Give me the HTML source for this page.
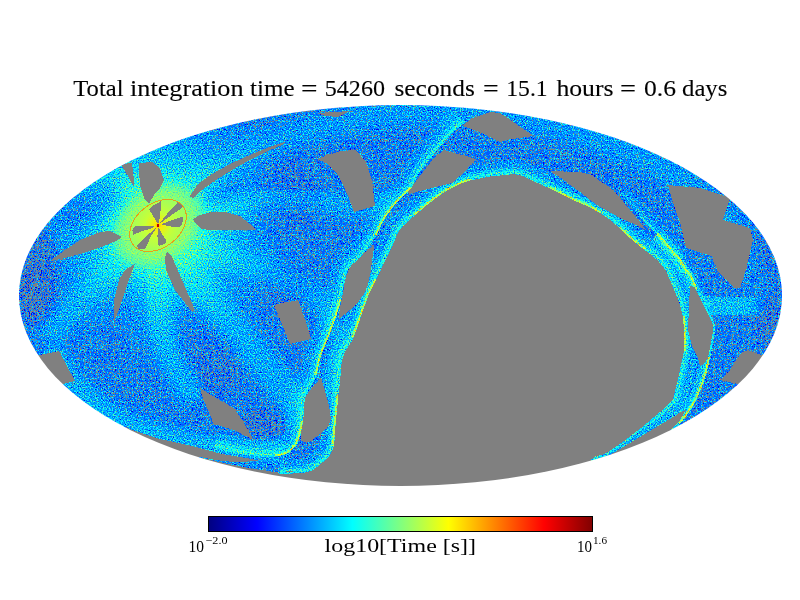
<!DOCTYPE html>
<html><head><meta charset="utf-8"><title>Total integration time</title>
<style>
html,body{margin:0;padding:0;background:#fff;width:800px;height:600px;overflow:hidden}
text{font-family:"Liberation Serif",serif;fill:#000}
</style></head>
<body>
<svg width="800" height="600" viewBox="0 0 800 600" style="position:absolute;left:0;top:0">
<defs>
<filter id="jet" x="0" y="0" width="800" height="600" filterUnits="userSpaceOnUse" color-interpolation-filters="sRGB">
<feTurbulence type="fractalNoise" baseFrequency="0.83 0.79" numOctaves="1" seed="7" result="n"/>
<feComponentTransfer in="n" result="m0"><feFuncR type="table" tableValues="0.173 0.173 0.173 0.173 0.173 0.174 0.174 0.174 0.175 0.176 0.178 0.182 0.187 0.194 0.205 0.220 0.240 0.250 0.257 0.267 0.280 0.294 0.301 0.309 0.319 0.330 0.343 0.356 0.371 0.386 0.401 0.418 0.434 0.450 0.471 0.490 0.519 0.556 0.587 0.627 0.671 0.706 0.748 0.794 0.828 0.861 0.904 0.935 0.956 0.971 0.981 0.988 0.993 0.995 0.997 0.998 0.999 0.999 1.000 1.000 1.000 1.000 1.000 1.000 1.000"/><feFuncA type="linear" slope="0" intercept="1"/></feComponentTransfer>
<feColorMatrix in="m0" type="matrix" values="1 0 0 0 0  1 0 0 0 0  1 0 0 0 0  0 0 0 0 1" result="m"/>
<feBlend in="SourceGraphic" in2="m" mode="multiply" result="v"/>
<feComponentTransfer in="v" result="col">
<feFuncR type="discrete" tableValues="0.502 0.502 0.502 0.502 0.502 0.502 0.502 0.502 0.502 0.502 0.502 0.502 0.502 0.502 0.502 0.502 0.502 0.502 0.502 0.502 0 0 0 0 0 0 0 0 0 0 0 0 0 0 0 0 0 0 0 0 0 0 0 0 0 0 0 0 0.017 0.037 0.056 0.075 0.094 0.112 0.13 0.147 0.165 0.182 0.198 0.215 0.231 0.247 0.262 0.277 0.293 0.307 0.322 0.336 0.351 0.365 0.378 0.392 0.405 0.419 0.432 0.445 0.457 0.47 0.482 0.494 0.507 0.518 0.53 0.542 0.553 0.565 0.576 0.587 0.598 0.609 0.62 0.63 0.641 0.651 0.661 0.672 0.682 0.692 0.701 0.711 0.721 0.73 0.74 0.749 0.759 0.768 0.777 0.786 0.795 0.804 0.813 0.821 0.83 0.838 0.847 0.855 0.864 0.872 0.88 0.888 0.896 0.904 0.912 0.92 0.928 0.935 0.943 0.951 0.958 0.966 0.973 0.981 0.988 0.995 1 1 1 1 1 1 1 1 1 1 1 1 1 1 1 1 1 1 1 1 1 1 1 1 1 1 1 1 1 1 1 1 1 1 1 1 1 1 1 1 1 1 1 1 1 1 1 1 1 1 1 1 1 1 1 1 1 1 1 1 1 1 1 1 1 1 1 1 1 1 1 1 1 1 1 1 1 1 1 1 1 1 1 1 1 1 1 1 1 1 1 1 1 1 1 1 1 1 1 1 1 1 1 1 1 1 1 1 1 1 1 1 1 1 1 1 1 1 1 1 1 1"/>
<feFuncG type="discrete" tableValues="0.502 0.502 0.502 0.502 0.502 0.502 0.502 0.502 0.502 0.502 0.502 0.502 0.502 0.502 0.502 0.502 0.502 0.502 0.502 0.502 0 0.335 0.349 0.361 0.373 0.396 0.433 0.469 0.504 0.537 0.569 0.6 0.631 0.66 0.688 0.716 0.743 0.769 0.794 0.819 0.843 0.867 0.89 0.912 0.934 0.955 0.976 0.997 1 1 1 1 1 1 1 1 1 1 1 1 1 1 1 1 1 1 1 1 1 1 1 1 1 1 1 1 1 1 1 1 1 1 1 1 1 1 1 1 1 1 1 1 1 1 1 1 1 1 1 1 1 1 1 1 1 1 1 1 1 1 1 1 1 1 1 1 1 1 1 1 1 1 1 1 1 1 1 1 1 1 1 1 1 1 0.998 0.99 0.983 0.976 0.969 0.962 0.955 0.949 0.942 0.935 0.928 0.922 0.915 0.909 0.902 0.896 0.889 0.883 0.876 0.87 0.864 0.858 0.851 0.845 0.839 0.833 0.827 0.821 0.815 0.809 0.803 0.797 0.792 0.786 0.78 0.774 0.769 0.763 0.757 0.752 0.746 0.741 0.735 0.73 0.724 0.719 0.714 0.708 0.703 0.698 0.692 0.687 0.682 0.677 0.672 0.667 0.661 0.656 0.651 0.646 0.641 0.636 0.631 0.627 0.622 0.617 0.612 0.607 0.602 0.598 0.593 0.588 0.584 0.579 0.574 0.57 0.565 0.56 0.556 0.551 0.547 0.542 0.538 0.533 0.529 0.525 0.52 0.516 0.511 0.507 0.503 0.499 0.494 0.49 0.486 0.482 0.477 0.473 0.469 0.465 0.461 0.457 0.453 0.448 0.444 0.44 0.436 0.432 0.428 0.424 0.42 0.416 0.413 0.409 0.405 0.401 0.397 0.393 0.389 0.385 0.382 0.378"/>
<feFuncB type="discrete" tableValues="0.502 0.502 0.502 0.502 0.502 0.502 0.502 0.502 0.502 0.502 0.502 0.502 0.502 0.502 0.502 0.502 0.502 0.502 0.502 0.502 0.937 1 1 1 1 1 1 1 1 1 1 1 1 1 1 1 1 1 1 1 1 1 1 1 1 1 1 1 0.983 0.963 0.944 0.925 0.906 0.888 0.87 0.853 0.835 0.818 0.802 0.785 0.769 0.753 0.738 0.723 0.707 0.693 0.678 0.664 0.649 0.635 0.622 0.608 0.595 0.581 0.568 0.555 0.543 0.53 0.518 0.506 0.493 0.482 0.47 0.458 0.447 0.435 0.424 0.413 0.402 0.391 0.38 0.37 0.359 0.349 0.339 0.328 0.318 0.308 0.299 0.289 0.279 0.27 0.26 0.251 0.241 0.232 0.223 0.214 0.205 0.196 0.187 0.179 0.17 0.162 0.153 0.145 0.136 0.128 0.12 0.112 0.104 0.096 0.088 0.08 0.072 0.065 0.057 0.049 0.042 0.034 0.027 0.019 0.012 0.005 0 0 0 0 0 0 0 0 0 0 0 0 0 0 0 0 0 0 0 0 0 0 0 0 0 0 0 0 0 0 0 0 0 0 0 0 0 0 0 0 0 0 0 0 0 0 0 0 0 0 0 0 0 0 0 0 0 0 0 0 0 0 0 0 0 0 0 0 0 0 0 0 0 0 0 0 0 0 0 0 0 0 0 0 0 0 0 0 0 0 0 0 0 0 0 0 0 0 0 0 0 0 0 0 0 0 0 0 0 0 0 0 0 0 0 0 0 0 0 0 0 0"/>
<feFuncA type="linear" slope="0" intercept="1"/>
</feComponentTransfer>
<feComposite in="col" in2="SourceGraphic" operator="in"/>
</filter>
<clipPath id="ell"><ellipse cx="400.5" cy="295.5" rx="381.5" ry="190.5" shape-rendering="crispEdges"/></clipPath>

<radialGradient id="glow" gradientUnits="userSpaceOnUse" cx="158" cy="225" r="150">
<stop offset="0" stop-color="#fff" stop-opacity="0.8"/>
<stop offset="0.13" stop-color="#fff" stop-opacity="0.6"/>
<stop offset="0.24" stop-color="#fff" stop-opacity="0.38"/>
<stop offset="0.4" stop-color="#fff" stop-opacity="0.17"/>
<stop offset="0.6" stop-color="#fff" stop-opacity="0.07"/>
<stop offset="0.8" stop-color="#fff" stop-opacity="0.025"/>
<stop offset="1" stop-color="#fff" stop-opacity="0"/>
</radialGradient>
<filter id="b3" x="-20%" y="-20%" width="140%" height="140%"><feGaussianBlur stdDeviation="3"/></filter>
<filter id="b6" x="-20%" y="-20%" width="140%" height="140%"><feGaussianBlur stdDeviation="6"/></filter>
<filter id="b12" x="-30%" y="-30%" width="160%" height="160%"><feGaussianBlur stdDeviation="12"/></filter>
<clipPath id="cA"><path d="M214 447 L232 451.5 L250 454.5 L264 456 L276 455.5 L288 452 L297 441 L302 422 L304 398 L310 386 L316 374 L320 356 L328 336 L336 314 L340 300 L344 280 L348 268 L360 256 L368 246 L376 234 L384 218 L396 202 L410 188 L420 170 L436 150 L452 132 L464 122 L464 60 L60 60 L60 447Z"/></clipPath><clipPath id="cC1"><path d="M560 160 L580 166 L600 176 L620 194 L640 216 L658 234 L668 246 L680 260 L760 260 L760 100 L560 100Z"/></clipPath><clipPath id="cC2"><path d="M658 234 L668 246 L680 260 L686 270 L690 274 L696 288 L706 308 L714 326 L712 342 L709 358 L704 378 L696 398 L688 412 L680 422 L672 430 L600 470 L560 300 L600 200Z"/></clipPath>
</defs>
<g clip-path="url(#ell)"><g filter="url(#jet)" shape-rendering="crispEdges">
<rect x="0" y="80" width="800" height="430" fill="rgb(57,57,57)"/>
<rect x="0" y="80" width="800" height="430" fill="url(#glow)"/>
<path d="M155 250 C155.3 258.3 154.8 283.3 157 300 C159.2 316.7 161.7 333.3 168 350 C174.3 366.7 190.5 391.7 195 400" fill="none" stroke="#fff" stroke-width="26" stroke-opacity="0.102" stroke-linecap="butt" filter="url(#b6)"/>
<path d="M175 255 C185.0 267.5 215.8 306.7 235 330 C254.2 353.3 278.2 378.7 290 395 C301.8 411.3 303.3 422.5 306 428" fill="none" stroke="#fff" stroke-width="30" stroke-opacity="0.09" stroke-linecap="butt" filter="url(#b6)"/>
<path d="M185 245 C199.2 249.5 246.7 262.0 270 272 C293.3 282.0 313.7 292.0 325 305 C336.3 318.0 338.5 334.2 338 350 C337.5 365.8 324.7 391.7 322 400" fill="none" stroke="#fff" stroke-width="24" stroke-opacity="0.077" stroke-linecap="butt" filter="url(#b6)"/>
<path d="M50 350 C55.0 357.0 65.8 379.0 80 392 C94.2 405.0 109.2 418.0 135 428 C160.8 438.0 210.0 448.3 235 452 C260.0 455.7 276.7 450.3 285 450" fill="none" stroke="#fff" stroke-width="22" stroke-opacity="0.115" stroke-linecap="butt" filter="url(#b6)"/>
<path d="M200 222 C212.5 217.7 250.0 198.8 275 196 C300.0 193.2 330.5 204.3 350 205 C369.5 205.7 385.0 200.8 392 200" fill="none" stroke="#fff" stroke-width="22" stroke-opacity="0.077" stroke-linecap="butt" filter="url(#b6)"/>
<path d="M190 190 C200.0 183.3 226.7 160.8 250 150 C273.3 139.2 301.7 131.3 330 125 C358.3 118.7 388.3 113.2 420 112 C451.7 110.8 490.0 113.3 520 118 C550.0 122.7 573.3 129.7 600 140 C626.7 150.3 656.7 163.3 680 180 C703.3 196.7 725.8 220.0 740 240 C754.2 260.0 760.8 290.0 765 300" fill="none" stroke="#fff" stroke-width="26" stroke-opacity="0.064" stroke-linecap="butt" filter="url(#b6)"/>
<path d="M150 200 C141.7 193.3 115.0 165.0 100 160 C85.0 155.0 66.7 168.3 60 170" fill="none" stroke="#fff" stroke-width="26" stroke-opacity="0.051" stroke-linecap="butt" filter="url(#b6)"/>
<path d="M130 245 C121.7 254.2 94.2 284.2 80 300 C65.8 315.8 50.8 333.3 45 340" fill="none" stroke="#fff" stroke-width="24" stroke-opacity="0.077" stroke-linecap="butt" filter="url(#b6)"/>
<path d="M700 300 C705.0 302.0 720.0 310.3 730 312 C740.0 313.7 755.0 310.3 760 310" fill="none" stroke="#fff" stroke-width="40" stroke-opacity="0.128" stroke-linecap="butt" filter="url(#b6)"/>
<ellipse cx="38" cy="275" rx="20" ry="48" fill="#000" fill-opacity="0.2" transform="rotate(5 38 275)" filter="url(#b6)"/>
<ellipse cx="94" cy="208" rx="34" ry="15" fill="#000" fill-opacity="0.2" transform="rotate(-22 94 208)" filter="url(#b6)"/>
<ellipse cx="222" cy="192" rx="22" ry="11" fill="#000" fill-opacity="0.16" transform="rotate(-28 222 192)" filter="url(#b6)"/>
<ellipse cx="70" cy="175" rx="26" ry="10" fill="#000" fill-opacity="0.12" transform="rotate(-35 70 175)" filter="url(#b6)"/>
<ellipse cx="205" cy="350" rx="26" ry="48" fill="#000" fill-opacity="0.096" transform="rotate(-35 205 350)" filter="url(#b6)"/>
<ellipse cx="285" cy="200" rx="32" ry="42" fill="#000" fill-opacity="0.084" transform="rotate(10 285 200)" filter="url(#b6)"/>
<ellipse cx="285" cy="290" rx="26" ry="26" fill="#000" fill-opacity="0.084" transform="rotate(0 285 290)" filter="url(#b6)"/>
<ellipse cx="262" cy="424" rx="22" ry="16" fill="#000" fill-opacity="0.132" transform="rotate(0 262 424)" filter="url(#b3)"/>
<ellipse cx="765" cy="290" rx="14" ry="60" fill="#000" fill-opacity="0.15" transform="rotate(-5 765 290)" filter="url(#b6)"/>
<ellipse cx="700" cy="150" rx="50" ry="14" fill="#000" fill-opacity="0.09" transform="rotate(30 700 150)" filter="url(#b6)"/>
<ellipse cx="120" cy="320" rx="14" ry="40" fill="#000" fill-opacity="0.084" transform="rotate(15 120 320)" filter="url(#b6)"/>
<g clip-path="url(#cA)"><path d="M214 447 C217.0 447.8 226.0 450.2 232 451.5 C238.0 452.8 244.7 453.8 250 454.5 C255.3 455.2 259.7 455.8 264 456 C268.3 456.2 272.0 456.2 276 455.5 C280.0 454.8 284.5 454.4 288 452 C291.5 449.6 294.7 446.0 297 441 C299.3 436.0 300.8 429.2 302 422 C303.2 414.8 302.7 404.0 304 398 C305.3 392.0 308.0 390.0 310 386 C312.0 382.0 314.3 379.0 316 374 C317.7 369.0 318.0 362.3 320 356 C322.0 349.7 325.3 343.0 328 336 C330.7 329.0 334.0 320.0 336 314 C338.0 308.0 338.7 305.7 340 300 C341.3 294.3 342.7 285.3 344 280 C345.3 274.7 345.3 272.0 348 268 C350.7 264.0 356.7 259.7 360 256 C363.3 252.3 365.3 249.7 368 246 C370.7 242.3 373.3 238.7 376 234 C378.7 229.3 380.7 223.3 384 218 C387.3 212.7 391.7 207.0 396 202 C400.3 197.0 406.0 193.3 410 188 C414.0 182.7 415.7 176.3 420 170 C424.3 163.7 430.7 156.3 436 150 C441.3 143.7 447.3 136.7 452 132 C456.7 127.3 462.0 123.7 464 122" fill="none" stroke="#fff" stroke-width="30" stroke-opacity="0.05" stroke-linecap="butt" stroke-linejoin="round"/><path d="M214 447 C217.0 447.8 226.0 450.2 232 451.5 C238.0 452.8 244.7 453.8 250 454.5 C255.3 455.2 259.7 455.8 264 456 C268.3 456.2 272.0 456.2 276 455.5 C280.0 454.8 284.5 454.4 288 452 C291.5 449.6 294.7 446.0 297 441 C299.3 436.0 300.8 429.2 302 422 C303.2 414.8 302.7 404.0 304 398 C305.3 392.0 308.0 390.0 310 386 C312.0 382.0 314.3 379.0 316 374 C317.7 369.0 318.0 362.3 320 356 C322.0 349.7 325.3 343.0 328 336 C330.7 329.0 334.0 320.0 336 314 C338.0 308.0 338.7 305.7 340 300 C341.3 294.3 342.7 285.3 344 280 C345.3 274.7 345.3 272.0 348 268 C350.7 264.0 356.7 259.7 360 256 C363.3 252.3 365.3 249.7 368 246 C370.7 242.3 373.3 238.7 376 234 C378.7 229.3 380.7 223.3 384 218 C387.3 212.7 391.7 207.0 396 202 C400.3 197.0 406.0 193.3 410 188 C414.0 182.7 415.7 176.3 420 170 C424.3 163.7 430.7 156.3 436 150 C441.3 143.7 447.3 136.7 452 132 C456.7 127.3 462.0 123.7 464 122" fill="none" stroke="#fff" stroke-width="14" stroke-opacity="0.09" stroke-linecap="butt" stroke-linejoin="round"/><path d="M214 447 C217.0 447.8 226.0 450.2 232 451.5 C238.0 452.8 244.7 453.8 250 454.5 C255.3 455.2 259.7 455.8 264 456 C268.3 456.2 272.0 456.2 276 455.5 C280.0 454.8 284.5 454.4 288 452 C291.5 449.6 294.7 446.0 297 441 C299.3 436.0 300.8 429.2 302 422 C303.2 414.8 302.7 404.0 304 398 C305.3 392.0 308.0 390.0 310 386 C312.0 382.0 314.3 379.0 316 374 C317.7 369.0 318.0 362.3 320 356 C322.0 349.7 325.3 343.0 328 336 C330.7 329.0 334.0 320.0 336 314 C338.0 308.0 338.7 305.7 340 300 C341.3 294.3 342.7 285.3 344 280 C345.3 274.7 345.3 272.0 348 268 C350.7 264.0 356.7 259.7 360 256 C363.3 252.3 365.3 249.7 368 246 C370.7 242.3 373.3 238.7 376 234 C378.7 229.3 380.7 223.3 384 218 C387.3 212.7 391.7 207.0 396 202 C400.3 197.0 406.0 193.3 410 188 C414.0 182.7 415.7 176.3 420 170 C424.3 163.7 430.7 156.3 436 150 C441.3 143.7 447.3 136.7 452 132 C456.7 127.3 462.0 123.7 464 122" fill="none" stroke="#fff" stroke-width="5" stroke-opacity="0.16" stroke-linecap="butt" stroke-linejoin="round"/></g>
<path d="M280 473 C284.7 472.7 301.3 472.7 308 471 C314.7 469.3 316.5 465.7 320 463 C323.5 460.3 326.8 458.0 329 455 C331.2 452.0 332.0 450.8 333 445 C334.0 439.2 334.2 428.3 335 420 C335.8 411.7 336.7 403.0 337.5 395 C338.3 387.0 339.4 377.8 340 372 C340.6 366.2 340.2 363.7 341 360 C341.8 356.3 343.1 353.8 345 350 C346.9 346.2 350.0 343.2 352.5 337.5 C355.0 331.8 358.1 321.4 360 316 C361.9 310.6 362.8 308.5 364 305 C365.2 301.5 365.7 299.2 367.5 295 C369.3 290.8 372.5 285.2 375 280 C377.5 274.8 380.0 269.2 382.5 264 C385.0 258.8 387.3 254.7 390 249 C392.7 243.3 395.8 234.5 398.5 230 C401.2 225.5 403.2 224.7 406 222 C408.8 219.3 411.3 217.2 415 214 C418.7 210.8 423.8 206.3 428 203 C432.2 199.7 436.7 196.3 440 194 C443.3 191.7 445.5 190.4 448 189 C450.5 187.6 453.0 186.5 455 185.5 C457.0 184.5 457.5 184.0 460 183 C462.5 182.0 466.7 180.4 470 179.5 C473.3 178.6 476.7 178.2 480 177.5 C483.3 176.8 486.7 176.0 490 175.5 C493.3 175.0 496.7 174.8 500 174.5 C503.3 174.2 506.7 173.6 510 173.5 C513.3 173.4 516.7 173.2 520 174 C523.3 174.8 526.7 177.0 530 178.5 C533.3 180.0 536.7 181.5 540 183 C543.3 184.5 546.7 185.9 550 187.5 C553.3 189.1 556.7 190.8 560 192.5 C563.3 194.2 566.7 195.9 570 197.5 C573.3 199.1 576.7 200.5 580 202 C583.3 203.5 586.7 204.8 590 206.5 C593.3 208.2 596.3 209.8 600 212 C603.7 214.2 608.7 217.4 612 220 C615.3 222.6 616.6 224.3 620 227.5 C623.4 230.7 628.3 235.4 632.5 239 C636.7 242.6 640.8 245.7 645 249 C649.2 252.3 654.0 255.7 657.5 259 C661.0 262.3 663.8 265.5 666 269 C668.2 272.5 669.3 276.2 671 280 C672.7 283.8 674.5 288.3 676 292 C677.5 295.7 678.7 297.7 680 302 C681.3 306.3 683.2 312.7 684 318 C684.8 323.3 684.8 328.7 685 334 C685.2 339.3 685.4 345.2 685 350 C684.6 354.8 683.5 357.7 682.5 362.5 C681.5 367.3 680.1 374.2 679 379 C677.9 383.8 676.9 387.5 676 391 C675.1 394.5 675.3 397.0 673.5 400 C671.7 403.0 668.1 406.1 665 409 C661.9 411.9 659.2 414.0 655 417.5 C650.8 421.0 647.5 424.2 640 430 C632.5 435.8 618.0 447.0 610 452 C602.0 457.0 595.0 458.7 592 460" fill="none" stroke="#fff" stroke-width="26" stroke-opacity="0.06" stroke-linecap="butt" stroke-linejoin="round"/><path d="M280 473 C284.7 472.7 301.3 472.7 308 471 C314.7 469.3 316.5 465.7 320 463 C323.5 460.3 326.8 458.0 329 455 C331.2 452.0 332.0 450.8 333 445 C334.0 439.2 334.2 428.3 335 420 C335.8 411.7 336.7 403.0 337.5 395 C338.3 387.0 339.4 377.8 340 372 C340.6 366.2 340.2 363.7 341 360 C341.8 356.3 343.1 353.8 345 350 C346.9 346.2 350.0 343.2 352.5 337.5 C355.0 331.8 358.1 321.4 360 316 C361.9 310.6 362.8 308.5 364 305 C365.2 301.5 365.7 299.2 367.5 295 C369.3 290.8 372.5 285.2 375 280 C377.5 274.8 380.0 269.2 382.5 264 C385.0 258.8 387.3 254.7 390 249 C392.7 243.3 395.8 234.5 398.5 230 C401.2 225.5 403.2 224.7 406 222 C408.8 219.3 411.3 217.2 415 214 C418.7 210.8 423.8 206.3 428 203 C432.2 199.7 436.7 196.3 440 194 C443.3 191.7 445.5 190.4 448 189 C450.5 187.6 453.0 186.5 455 185.5 C457.0 184.5 457.5 184.0 460 183 C462.5 182.0 466.7 180.4 470 179.5 C473.3 178.6 476.7 178.2 480 177.5 C483.3 176.8 486.7 176.0 490 175.5 C493.3 175.0 496.7 174.8 500 174.5 C503.3 174.2 506.7 173.6 510 173.5 C513.3 173.4 516.7 173.2 520 174 C523.3 174.8 526.7 177.0 530 178.5 C533.3 180.0 536.7 181.5 540 183 C543.3 184.5 546.7 185.9 550 187.5 C553.3 189.1 556.7 190.8 560 192.5 C563.3 194.2 566.7 195.9 570 197.5 C573.3 199.1 576.7 200.5 580 202 C583.3 203.5 586.7 204.8 590 206.5 C593.3 208.2 596.3 209.8 600 212 C603.7 214.2 608.7 217.4 612 220 C615.3 222.6 616.6 224.3 620 227.5 C623.4 230.7 628.3 235.4 632.5 239 C636.7 242.6 640.8 245.7 645 249 C649.2 252.3 654.0 255.7 657.5 259 C661.0 262.3 663.8 265.5 666 269 C668.2 272.5 669.3 276.2 671 280 C672.7 283.8 674.5 288.3 676 292 C677.5 295.7 678.7 297.7 680 302 C681.3 306.3 683.2 312.7 684 318 C684.8 323.3 684.8 328.7 685 334 C685.2 339.3 685.4 345.2 685 350 C684.6 354.8 683.5 357.7 682.5 362.5 C681.5 367.3 680.1 374.2 679 379 C677.9 383.8 676.9 387.5 676 391 C675.1 394.5 675.3 397.0 673.5 400 C671.7 403.0 668.1 406.1 665 409 C661.9 411.9 659.2 414.0 655 417.5 C650.8 421.0 647.5 424.2 640 430 C632.5 435.8 618.0 447.0 610 452 C602.0 457.0 595.0 458.7 592 460" fill="none" stroke="#fff" stroke-width="12" stroke-opacity="0.1" stroke-linecap="butt" stroke-linejoin="round"/><path d="M280 473 C284.7 472.7 301.3 472.7 308 471 C314.7 469.3 316.5 465.7 320 463 C323.5 460.3 326.8 458.0 329 455 C331.2 452.0 332.0 450.8 333 445 C334.0 439.2 334.2 428.3 335 420 C335.8 411.7 336.7 403.0 337.5 395 C338.3 387.0 339.4 377.8 340 372 C340.6 366.2 340.2 363.7 341 360 C341.8 356.3 343.1 353.8 345 350 C346.9 346.2 350.0 343.2 352.5 337.5 C355.0 331.8 358.1 321.4 360 316 C361.9 310.6 362.8 308.5 364 305 C365.2 301.5 365.7 299.2 367.5 295 C369.3 290.8 372.5 285.2 375 280 C377.5 274.8 380.0 269.2 382.5 264 C385.0 258.8 387.3 254.7 390 249 C392.7 243.3 395.8 234.5 398.5 230 C401.2 225.5 403.2 224.7 406 222 C408.8 219.3 411.3 217.2 415 214 C418.7 210.8 423.8 206.3 428 203 C432.2 199.7 436.7 196.3 440 194 C443.3 191.7 445.5 190.4 448 189 C450.5 187.6 453.0 186.5 455 185.5 C457.0 184.5 457.5 184.0 460 183 C462.5 182.0 466.7 180.4 470 179.5 C473.3 178.6 476.7 178.2 480 177.5 C483.3 176.8 486.7 176.0 490 175.5 C493.3 175.0 496.7 174.8 500 174.5 C503.3 174.2 506.7 173.6 510 173.5 C513.3 173.4 516.7 173.2 520 174 C523.3 174.8 526.7 177.0 530 178.5 C533.3 180.0 536.7 181.5 540 183 C543.3 184.5 546.7 185.9 550 187.5 C553.3 189.1 556.7 190.8 560 192.5 C563.3 194.2 566.7 195.9 570 197.5 C573.3 199.1 576.7 200.5 580 202 C583.3 203.5 586.7 204.8 590 206.5 C593.3 208.2 596.3 209.8 600 212 C603.7 214.2 608.7 217.4 612 220 C615.3 222.6 616.6 224.3 620 227.5 C623.4 230.7 628.3 235.4 632.5 239 C636.7 242.6 640.8 245.7 645 249 C649.2 252.3 654.0 255.7 657.5 259 C661.0 262.3 663.8 265.5 666 269 C668.2 272.5 669.3 276.2 671 280 C672.7 283.8 674.5 288.3 676 292 C677.5 295.7 678.7 297.7 680 302 C681.3 306.3 683.2 312.7 684 318 C684.8 323.3 684.8 328.7 685 334 C685.2 339.3 685.4 345.2 685 350 C684.6 354.8 683.5 357.7 682.5 362.5 C681.5 367.3 680.1 374.2 679 379 C677.9 383.8 676.9 387.5 676 391 C675.1 394.5 675.3 397.0 673.5 400 C671.7 403.0 668.1 406.1 665 409 C661.9 411.9 659.2 414.0 655 417.5 C650.8 421.0 647.5 424.2 640 430 C632.5 435.8 618.0 447.0 610 452 C602.0 457.0 595.0 458.7 592 460" fill="none" stroke="#fff" stroke-width="5" stroke-opacity="0.16" stroke-linecap="butt" stroke-linejoin="round"/>
<g clip-path="url(#cC1)"><path d="M620 194 C623.3 197.7 633.7 209.3 640 216 C646.3 222.7 653.3 229.0 658 234 C662.7 239.0 664.3 241.7 668 246 C671.7 250.3 678.0 257.7 680 260" fill="none" stroke="#fff" stroke-width="22" stroke-opacity="0.04" stroke-linecap="butt" stroke-linejoin="round"/><path d="M620 194 C623.3 197.7 633.7 209.3 640 216 C646.3 222.7 653.3 229.0 658 234 C662.7 239.0 664.3 241.7 668 246 C671.7 250.3 678.0 257.7 680 260" fill="none" stroke="#fff" stroke-width="10" stroke-opacity="0.06" stroke-linecap="butt" stroke-linejoin="round"/></g>
<g clip-path="url(#cC2)"><path d="M658 234 C659.7 236.0 664.3 241.7 668 246 C671.7 250.3 677.0 256.0 680 260 C683.0 264.0 684.3 267.7 686 270 C687.7 272.3 688.3 271.0 690 274 C691.7 277.0 693.3 282.3 696 288 C698.7 293.7 703.0 301.7 706 308 C709.0 314.3 713.0 320.3 714 326 C715.0 331.7 712.8 336.7 712 342 C711.2 347.3 710.3 352.0 709 358 C707.7 364.0 706.2 371.3 704 378 C701.8 384.7 698.7 392.3 696 398 C693.3 403.7 690.7 408.0 688 412 C685.3 416.0 682.7 419.0 680 422 C677.3 425.0 673.3 428.7 672 430" fill="none" stroke="#fff" stroke-width="30" stroke-opacity="0.05" stroke-linecap="butt" stroke-linejoin="round"/><path d="M658 234 C659.7 236.0 664.3 241.7 668 246 C671.7 250.3 677.0 256.0 680 260 C683.0 264.0 684.3 267.7 686 270 C687.7 272.3 688.3 271.0 690 274 C691.7 277.0 693.3 282.3 696 288 C698.7 293.7 703.0 301.7 706 308 C709.0 314.3 713.0 320.3 714 326 C715.0 331.7 712.8 336.7 712 342 C711.2 347.3 710.3 352.0 709 358 C707.7 364.0 706.2 371.3 704 378 C701.8 384.7 698.7 392.3 696 398 C693.3 403.7 690.7 408.0 688 412 C685.3 416.0 682.7 419.0 680 422 C677.3 425.0 673.3 428.7 672 430" fill="none" stroke="#fff" stroke-width="14" stroke-opacity="0.09" stroke-linecap="butt" stroke-linejoin="round"/><path d="M658 234 C659.7 236.0 664.3 241.7 668 246 C671.7 250.3 677.0 256.0 680 260 C683.0 264.0 684.3 267.7 686 270 C687.7 272.3 688.3 271.0 690 274 C691.7 277.0 693.3 282.3 696 288 C698.7 293.7 703.0 301.7 706 308 C709.0 314.3 713.0 320.3 714 326 C715.0 331.7 712.8 336.7 712 342 C711.2 347.3 710.3 352.0 709 358 C707.7 364.0 706.2 371.3 704 378 C701.8 384.7 698.7 392.3 696 398 C693.3 403.7 690.7 408.0 688 412 C685.3 416.0 682.7 419.0 680 422 C677.3 425.0 673.3 428.7 672 430" fill="none" stroke="#fff" stroke-width="5" stroke-opacity="0.16" stroke-linecap="butt" stroke-linejoin="round"/></g>
<path d="M658 234 C659.7 236.0 664.3 241.7 668 246 C671.7 250.3 677.0 256.0 680 260 C683.0 264.0 684.3 267.7 686 270 C687.7 272.3 688.3 271.0 690 274 C691.7 277.0 693.3 282.3 696 288 C698.7 293.7 704.3 304.7 706 308" fill="none" stroke="#fff" stroke-width="14" stroke-opacity="0.06" stroke-linecap="butt" stroke-linejoin="round"/><path d="M658 234 C659.7 236.0 664.3 241.7 668 246 C671.7 250.3 677.0 256.0 680 260 C683.0 264.0 684.3 267.7 686 270 C687.7 272.3 688.3 271.0 690 274 C691.7 277.0 693.3 282.3 696 288 C698.7 293.7 704.3 304.7 706 308" fill="none" stroke="#fff" stroke-width="6" stroke-opacity="0.1" stroke-linecap="butt" stroke-linejoin="round"/>
<path d="M139 163 L152 162 L160 168 L164 180 L160 188 L154 195 L149 204 L144 198 L140.5 187 L139 174Z" fill="#000"/>
<path d="M121.5 165.5 L127 163.5 L132 163 L133.5 176 L134 187 L129 178 L125 171Z" fill="#000"/>
<path d="M189 196 L192 193 L198 184 L212 174 L230 164 L252 154 L272 146 L285 142 L284 144 L268 151 L250 160 L232 170 L216 180 L202 190 L193 198Z" fill="#000"/>
<path d="M193 219 L200 215 L210 212.5 L225 212 L240 216 L250 224 L256 230 L240 230 L210 230 L202 229 L196 224Z" fill="#000"/>
<path d="M167 252 L172 257 L182 280 L195 310 L192 312 L175 290 L166 270 L165 257Z" fill="#000"/>
<path d="M122 237 L117 234.5 L110 231 L100 232 L80 240 L65 250 L50 261 L65 258 L80 254 L104 246 L116 241Z" fill="#000"/>
<path d="M135 264 L130 277 L120 307 L114 322 L114 300 L119 280 L125 270Z" fill="#000"/>
<path d="M25 358 L39 355 L59 351 L66 364 L75 381 L63 384 L50 392Z" fill="#000"/>
<path d="M317 159 L340 151 L356 150 L366 162 L372 180 L375 206 L354 212 L348 196 L338 174 L326 163Z" fill="#000"/>
<path d="M316 113 L350 111 L338 117 L325 116Z" fill="#000"/>
<path d="M462 126 L472 118 L490 112 L500 113 L534 136 L526 137 L506 140 L500 142 L484 134 L466 127Z" fill="#000"/>
<path d="M444 150 L476 159 L468 168 L460 176 L452.5 183 L440 186 L424 190 L409 194 L407 192 L420 176 L434 158Z" fill="#000"/>
<path d="M550 171 L564 171.5 L580 172 L592 175 L600 181 L608 186 L620 198 L630 210 L640 222 L646 230 L634 224 L620 218 L606 210 L600 207 L590 200 L580 192 L570 185 L560 177Z" fill="#000"/>
<path d="M668 185 L700 188 L730 198 L723 220 L750 228 L753 240 L750 252 L746 270 L740 288 L734 288 L718 272 L712 256 L692 250 L686 248 L680 222 L672 200Z" fill="#000"/>
<path d="M690 286 L696 288 L706 308 L714 326 L712 342 L708 358 L704 364 L700 366 L698 358 L692 346 L688 330 L689 306Z" fill="#000"/>
<path d="M748 350 L764 356 L775 360 L752 376 L738 384 L720 380 L730 370 L736 360 L742 352Z" fill="#000"/>
<path d="M274 305 L298 300 L308 328 L311 339 L290 344 L282 324Z" fill="#000"/>
<path d="M374.5 244.5 L362.5 254 L351 265 L346 276 L343.5 290 L340.5 305 L338.5 320 L345 314 L350 310 L356 305 L364 294 L368 285 L371 269 L373 255Z" fill="#000"/>
<path d="M321 377.5 L312.5 387.5 L302.5 400 L302 420 L300.5 440 L305 442.5 L311 441 L320 434 L329 425 L331 419 L329 406 L325 391Z" fill="#000"/>
<path d="M200 388 L216 398 L234 408 L242 420 L254 440 L234 430 L214 424 L208 410 L202 396Z" fill="#000"/>
<path d="M126 427 L132 430 L160 439 L190 445.5 L222 454 L246 458 L258 460.3 L258 461 L240 461.9 L226 461.4 L210 459 L200 457 L190 457 L120 440Z" fill="#000"/>
<path d="M198 457.3 L210 459.8 L220 462.3 L250 468.3 L270 471.3 L280 472.8 L284 474 L300 490 L190 490Z" fill="#000"/>
<path d="M280 473 C284.7 469.8 301.3 472.7 308 471 C314.7 469.3 316.5 465.7 320 463 C323.5 460.3 326.8 458.0 329 455 C331.2 452.0 332.0 450.8 333 445 C334.0 439.2 334.2 428.3 335 420 C335.8 411.7 336.7 403.0 337.5 395 C338.3 387.0 339.4 377.8 340 372 C340.6 366.2 340.2 363.7 341 360 C341.8 356.3 343.1 353.8 345 350 C346.9 346.2 350.0 343.2 352.5 337.5 C355.0 331.8 358.1 321.4 360 316 C361.9 310.6 362.8 308.5 364 305 C365.2 301.5 365.7 299.2 367.5 295 C369.3 290.8 372.5 285.2 375 280 C377.5 274.8 380.0 269.2 382.5 264 C385.0 258.8 387.3 254.7 390 249 C392.7 243.3 395.8 234.5 398.5 230 C401.2 225.5 403.2 224.7 406 222 C408.8 219.3 411.3 217.2 415 214 C418.7 210.8 423.8 206.3 428 203 C432.2 199.7 436.7 196.3 440 194 C443.3 191.7 445.5 190.4 448 189 C450.5 187.6 453.0 186.5 455 185.5 C457.0 184.5 457.5 184.0 460 183 C462.5 182.0 466.7 180.4 470 179.5 C473.3 178.6 476.7 178.2 480 177.5 C483.3 176.8 486.7 176.0 490 175.5 C493.3 175.0 496.7 174.8 500 174.5 C503.3 174.2 506.7 173.6 510 173.5 C513.3 173.4 516.7 173.2 520 174 C523.3 174.8 526.7 177.0 530 178.5 C533.3 180.0 536.7 181.5 540 183 C543.3 184.5 546.7 185.9 550 187.5 C553.3 189.1 556.7 190.8 560 192.5 C563.3 194.2 566.7 195.9 570 197.5 C573.3 199.1 576.7 200.5 580 202 C583.3 203.5 586.7 204.8 590 206.5 C593.3 208.2 596.3 209.8 600 212 C603.7 214.2 608.7 217.4 612 220 C615.3 222.6 616.6 224.3 620 227.5 C623.4 230.7 628.3 235.4 632.5 239 C636.7 242.6 640.8 245.7 645 249 C649.2 252.3 654.0 255.7 657.5 259 C661.0 262.3 663.8 265.5 666 269 C668.2 272.5 669.3 276.2 671 280 C672.7 283.8 674.5 288.3 676 292 C677.5 295.7 678.7 297.7 680 302 C681.3 306.3 683.2 312.7 684 318 C684.8 323.3 684.8 328.7 685 334 C685.2 339.3 685.4 345.2 685 350 C684.6 354.8 683.5 357.7 682.5 362.5 C681.5 367.3 680.1 374.2 679 379 C677.9 383.8 676.9 387.5 676 391 C675.1 394.5 675.3 397.0 673.5 400 C671.7 403.0 668.1 406.1 665 409 C661.9 411.9 659.2 414.0 655 417.5 C650.8 421.0 647.5 424.2 640 430 C632.5 435.8 618.0 447.0 610 452 C602.0 457.0 593.7 453.7 592 460 C590.3 466.3 652.0 485.0 600 490 C548.0 495.0 333.3 492.8 280 490 C226.7 487.2 275.3 476.2 280 473Z" fill="#000"/>
<path d="M592 460 L610 454 L640 435 L660 423 L676 414 L686 410 L680 420 L672 432 L660 445 L600 480Z" fill="#000"/>
<path d="M676 404 L660 418 L640 430 L610 452 L592 460 L610 455 L640 437 L660 425 L678 414Z" fill="rgb(79,79,79)"/>
<path d="M214 447 C217.0 447.8 226.0 450.2 232 451.5 C238.0 452.8 244.7 453.8 250 454.5 C255.3 455.2 259.7 455.8 264 456 C268.3 456.2 272.0 456.2 276 455.5 C280.0 454.8 284.5 454.4 288 452 C291.5 449.6 294.7 446.0 297 441 C299.3 436.0 300.8 429.2 302 422 C303.2 414.8 302.7 404.0 304 398 C305.3 392.0 308.0 390.0 310 386 C312.0 382.0 314.3 379.0 316 374 C317.7 369.0 318.0 362.3 320 356 C322.0 349.7 325.3 343.0 328 336 C330.7 329.0 334.0 320.0 336 314 C338.0 308.0 338.7 305.7 340 300 C341.3 294.3 342.7 285.3 344 280 C345.3 274.7 345.3 272.0 348 268 C350.7 264.0 356.7 259.7 360 256 C363.3 252.3 365.3 249.7 368 246 C370.7 242.3 373.3 238.7 376 234 C378.7 229.3 380.7 223.3 384 218 C387.3 212.7 391.7 207.0 396 202 C400.3 197.0 406.0 193.3 410 188 C414.0 182.7 415.7 176.3 420 170 C424.3 163.7 430.7 156.3 436 150 C441.3 143.7 447.3 136.7 452 132 C456.7 127.3 462.0 123.7 464 122" fill="none" stroke="rgb(102,102,102)" stroke-width="2.0" stroke-linecap="round"/>
<path d="M280 473 C284.7 472.7 301.3 472.7 308 471 C314.7 469.3 316.5 465.7 320 463 C323.5 460.3 326.8 458.0 329 455 C331.2 452.0 332.0 450.8 333 445 C334.0 439.2 334.2 428.3 335 420 C335.8 411.7 336.7 403.0 337.5 395 C338.3 387.0 339.4 377.8 340 372 C340.6 366.2 340.2 363.7 341 360 C341.8 356.3 343.1 353.8 345 350 C346.9 346.2 350.0 343.2 352.5 337.5 C355.0 331.8 358.1 321.4 360 316 C361.9 310.6 362.8 308.5 364 305 C365.2 301.5 365.7 299.2 367.5 295 C369.3 290.8 372.5 285.2 375 280 C377.5 274.8 380.0 269.2 382.5 264 C385.0 258.8 387.3 254.7 390 249 C392.7 243.3 395.8 234.5 398.5 230 C401.2 225.5 403.2 224.7 406 222 C408.8 219.3 411.3 217.2 415 214 C418.7 210.8 423.8 206.3 428 203 C432.2 199.7 436.7 196.3 440 194 C443.3 191.7 445.5 190.4 448 189 C450.5 187.6 453.0 186.5 455 185.5 C457.0 184.5 457.5 184.0 460 183 C462.5 182.0 466.7 180.4 470 179.5 C473.3 178.6 476.7 178.2 480 177.5 C483.3 176.8 486.7 176.0 490 175.5 C493.3 175.0 496.7 174.8 500 174.5 C503.3 174.2 506.7 173.6 510 173.5 C513.3 173.4 516.7 173.2 520 174 C523.3 174.8 526.7 177.0 530 178.5 C533.3 180.0 536.7 181.5 540 183 C543.3 184.5 546.7 185.9 550 187.5 C553.3 189.1 556.7 190.8 560 192.5 C563.3 194.2 566.7 195.9 570 197.5 C573.3 199.1 576.7 200.5 580 202 C583.3 203.5 586.7 204.8 590 206.5 C593.3 208.2 596.3 209.8 600 212 C603.7 214.2 608.7 217.4 612 220 C615.3 222.6 616.6 224.3 620 227.5 C623.4 230.7 628.3 235.4 632.5 239 C636.7 242.6 640.8 245.7 645 249 C649.2 252.3 654.0 255.7 657.5 259 C661.0 262.3 663.8 265.5 666 269 C668.2 272.5 669.3 276.2 671 280 C672.7 283.8 674.5 288.3 676 292 C677.5 295.7 678.7 297.7 680 302 C681.3 306.3 683.2 312.7 684 318 C684.8 323.3 684.8 328.7 685 334 C685.2 339.3 685.4 345.2 685 350 C684.6 354.8 683.5 357.7 682.5 362.5 C681.5 367.3 680.1 374.2 679 379 C677.9 383.8 676.9 387.5 676 391 C675.1 394.5 675.3 397.0 673.5 400 C671.7 403.0 668.1 406.1 665 409 C661.9 411.9 659.2 414.0 655 417.5 C650.8 421.0 647.5 424.2 640 430 C632.5 435.8 618.0 447.0 610 452 C602.0 457.0 595.0 458.7 592 460" fill="none" stroke="rgb(102,102,102)" stroke-width="2.0" stroke-linecap="round"/>
<path d="M640 216 C643.0 219.0 653.3 229.0 658 234 C662.7 239.0 664.3 241.7 668 246 C671.7 250.3 677.0 256.0 680 260 C683.0 264.0 684.3 267.7 686 270 C687.7 272.3 688.3 271.0 690 274 C691.7 277.0 693.3 282.3 696 288 C698.7 293.7 703.0 301.7 706 308 C709.0 314.3 713.0 320.3 714 326 C715.0 331.7 712.8 336.7 712 342 C711.2 347.3 710.3 352.0 709 358 C707.7 364.0 706.2 371.3 704 378 C701.8 384.7 698.7 392.3 696 398 C693.3 403.7 690.7 408.0 688 412 C685.3 416.0 682.7 419.0 680 422 C677.3 425.0 673.3 428.7 672 430" fill="none" stroke="rgb(102,102,102)" stroke-width="2.0" stroke-linecap="round"/>
<path d="M276 455.5 C278.0 454.9 284.5 454.4 288 452 C291.5 449.6 294.7 446.0 297 441 C299.3 436.0 301.2 425.2 302 422" fill="none" stroke="rgb(221,221,221)" stroke-width="2.0" stroke-linecap="round"/>
<path d="M316 374 C316.7 371.0 318.0 362.3 320 356 C322.0 349.7 325.3 343.0 328 336 C330.7 329.0 334.0 320.0 336 314 C338.0 308.0 339.3 302.3 340 300" fill="none" stroke="rgb(221,221,221)" stroke-width="1.8" stroke-linecap="round"/>
<path d="M376 234 C377.3 231.3 380.7 223.3 384 218 C387.3 212.7 391.7 207.0 396 202 C400.3 197.0 407.7 190.3 410 188" fill="none" stroke="rgb(221,221,221)" stroke-width="1.8" stroke-linecap="round"/>
<path d="M333 445 C333.3 440.8 334.2 428.3 335 420 C335.8 411.7 337.1 399.2 337.5 395" fill="none" stroke="rgb(221,221,221)" stroke-width="1.8" stroke-linecap="round"/>
<path d="M352.5 337.5 C353.8 333.9 358.1 321.4 360 316 C361.9 310.6 362.8 308.5 364 305 C365.2 301.5 365.7 299.2 367.5 295 C369.3 290.8 373.8 282.5 375 280" fill="none" stroke="rgb(221,221,221)" stroke-width="1.8" stroke-linecap="round"/>
<path d="M415 214 C417.2 212.2 423.8 206.3 428 203 C432.2 199.7 436.7 196.3 440 194 C443.3 191.7 445.5 190.4 448 189 C450.5 187.6 453.0 186.5 455 185.5 C457.0 184.5 457.5 184.0 460 183 C462.5 182.0 468.3 180.1 470 179.5" fill="none" stroke="rgb(221,221,221)" stroke-width="1.8" stroke-linecap="round"/>
<path d="M550 187.5 C551.7 188.3 556.7 190.8 560 192.5 C563.3 194.2 566.7 195.9 570 197.5 C573.3 199.1 576.7 200.5 580 202 C583.3 203.5 586.7 204.8 590 206.5 C593.3 208.2 598.3 211.1 600 212" fill="none" stroke="rgb(221,221,221)" stroke-width="1.8" stroke-linecap="round"/>
<path d="M620 227.5 C622.1 229.4 628.3 235.4 632.5 239 C636.7 242.6 642.9 247.3 645 249" fill="none" stroke="rgb(221,221,221)" stroke-width="1.8" stroke-linecap="round"/>
<path d="M684 318 C684.2 320.7 684.8 328.7 685 334 C685.2 339.3 685.0 347.3 685 350" fill="none" stroke="rgb(221,221,221)" stroke-width="1.8" stroke-linecap="round"/>
<path d="M658 234 C659.7 236.0 664.3 241.7 668 246 C671.7 250.3 677.0 256.0 680 260 C683.0 264.0 684.3 267.7 686 270 C687.7 272.3 688.3 271.0 690 274 C691.7 277.0 695.0 285.7 696 288" fill="none" stroke="rgb(221,221,221)" stroke-width="2.0" stroke-linecap="round"/>
<path d="M709 358 C708.2 361.3 706.2 371.3 704 378 C701.8 384.7 698.7 392.3 696 398 C693.3 403.7 690.7 408.0 688 412 C685.3 416.0 681.3 420.3 680 422" fill="none" stroke="rgb(221,221,221)" stroke-width="2.0" stroke-linecap="round"/>
</g></g>
</svg>
<svg width="800" height="600" viewBox="0 0 800 600" style="position:absolute;left:0;top:0;will-change:transform;opacity:0.999">
<defs><clipPath id="ringc"><ellipse rx="31.5" ry="22" transform="rotate(-38)"/></clipPath><radialGradient id="flg" cx="0" cy="0" r="32" gradientUnits="userSpaceOnUse"><stop offset="0" stop-color="rgb(255,170,0)"/><stop offset="0.1" stop-color="rgb(250,235,5)"/><stop offset="0.4" stop-color="rgb(200,255,55)"/><stop offset="1" stop-color="rgb(150,255,105)"/></radialGradient><radialGradient id="halo" cx="0" cy="0" r="1" gradientUnits="objectBoundingBox" fx="0.5" fy="0.5"></radialGradient><radialGradient id="halo2" cx="0.5" cy="0.5" r="0.5"><stop offset="0" stop-color="rgb(175,255,80)" stop-opacity="0.7"/><stop offset="0.7" stop-color="rgb(165,255,90)" stop-opacity="0.62"/><stop offset="0.86" stop-color="rgb(120,255,135)" stop-opacity="0.5"/><stop offset="1" stop-color="rgb(60,255,200)" stop-opacity="0"/></radialGradient></defs>
<g clip-path="url(#ell)"><g transform="translate(158 225.5)" shape-rendering="crispEdges"><ellipse rx="54" ry="40" transform="rotate(-38)" fill="url(#halo2)"/><g clip-path="url(#ringc)"><rect x="-40" y="-40" width="80" height="80" fill="url(#flg)"/><path d="M0 -1.25 L-5.6 -10.6 L-8.75 -16.25 L-5 -20 L0.6 -22.5 L3.4 -25 L2.5 -14.4 L1.25 -4.4Z" fill="rgb(128,128,128)"/><path d="M1.9 -2.5 L8.75 -11.25 L21.9 -25.6 L25.6 -18.75 L15.6 -11.9 L4.4 -3.75Z" fill="rgb(128,128,128)"/><path d="M3.1 -1.25 L14.4 -5.6 L25 -8.75 L24.4 -2.5 L21.9 1.9 L11.9 0.9Z" fill="rgb(128,128,128)"/><path d="M0.6 1.9 L4.4 9.4 L8.75 15.6 L6.25 18.75 L0.6 20.6 L-0.6 10.6Z" fill="rgb(128,128,128)"/><path d="M-1.9 2.5 L-6.9 10.6 L-13.1 23.75 L-19.4 23.75 L-21.25 20.6 L-11.9 10.6Z" fill="rgb(128,128,128)"/><path d="M-2.5 0 L-13.1 0 L-23.1 0.6 L-25.6 4.4 L-25 9.4 L-15.6 5.6 L-5.6 2.5Z" fill="rgb(128,128,128)"/></g><ellipse rx="31.5" ry="22" transform="rotate(-38)" fill="none" stroke="rgb(255,130,0)" stroke-width="1" stroke-opacity="0.75"/><circle r="1.3" fill="rgb(190,0,0)"/></g><path d="M139 163 L152 162 L160 168 L164 180 L160 188 L154 195 L149 204 L144 198 L140.5 187 L139 174Z" fill="rgb(128,128,128)" shape-rendering="crispEdges"/><path d="M121.5 165.5 L127 163.5 L132 163 L133.5 176 L134 187 L129 178 L125 171Z" fill="rgb(128,128,128)" shape-rendering="crispEdges"/><path d="M189 196 L192 193 L198 184 L212 174 L230 164 L252 154 L272 146 L285 142 L284 144 L268 151 L250 160 L232 170 L216 180 L202 190 L193 198Z" fill="rgb(128,128,128)" shape-rendering="crispEdges"/><path d="M193 219 L200 215 L210 212.5 L225 212 L240 216 L250 224 L256 230 L240 230 L210 230 L202 229 L196 224Z" fill="rgb(128,128,128)" shape-rendering="crispEdges"/><path d="M167 252 L172 257 L182 280 L195 310 L192 312 L175 290 L166 270 L165 257Z" fill="rgb(128,128,128)" shape-rendering="crispEdges"/><path d="M122 237 L117 234.5 L110 231 L100 232 L80 240 L65 250 L50 261 L65 258 L80 254 L104 246 L116 241Z" fill="rgb(128,128,128)" shape-rendering="crispEdges"/><path d="M135 264 L130 277 L120 307 L114 322 L114 300 L119 280 L125 270Z" fill="rgb(128,128,128)" shape-rendering="crispEdges"/></g>
<text x="73.3" y="96" font-size="22.8" textLength="50.2" lengthAdjust="spacingAndGlyphs" stroke="#000" stroke-width="0.1">Total</text>
<text x="130" y="96" font-size="22.8" textLength="113.6" lengthAdjust="spacingAndGlyphs" stroke="#000" stroke-width="0.1">integration</text>
<text x="250" y="96" font-size="22.8" textLength="44.6" lengthAdjust="spacingAndGlyphs" stroke="#000" stroke-width="0.1">time</text>
<text x="301" y="96" font-size="22.8" textLength="16.5" lengthAdjust="spacingAndGlyphs" stroke="#000" stroke-width="0.1">=</text>
<text x="324.8" y="96" font-size="22.8" textLength="60.2" lengthAdjust="spacingAndGlyphs" stroke="#000" stroke-width="0.1">54260</text>
<text x="394.5" y="96" font-size="22.8" textLength="80.3" lengthAdjust="spacingAndGlyphs" stroke="#000" stroke-width="0.1">seconds</text>
<text x="482.9" y="96" font-size="22.8" textLength="15.7" lengthAdjust="spacingAndGlyphs" stroke="#000" stroke-width="0.1">=</text>
<text x="506.3" y="96" font-size="22.8" textLength="41.3" lengthAdjust="spacingAndGlyphs" stroke="#000" stroke-width="0.1">15.1</text>
<text x="556.4" y="96" font-size="22.8" textLength="57.2" lengthAdjust="spacingAndGlyphs" stroke="#000" stroke-width="0.1">hours</text>
<text x="620" y="96" font-size="22.8" textLength="16.0" lengthAdjust="spacingAndGlyphs" stroke="#000" stroke-width="0.1">=</text>
<text x="644" y="96" font-size="22.8" textLength="32.0" lengthAdjust="spacingAndGlyphs" stroke="#000" stroke-width="0.1">0.6</text>
<text x="682" y="96" font-size="22.8" textLength="45.4" lengthAdjust="spacingAndGlyphs" stroke="#000" stroke-width="0.1">days</text>
<linearGradient id="jetg" x1="0" x2="1" y1="0" y2="0"><stop offset="0" stop-color="rgb(0,0,128)"/><stop offset="0.125" stop-color="rgb(0,0,255)"/><stop offset="0.375" stop-color="rgb(0,255,255)"/><stop offset="0.5" stop-color="rgb(128,255,128)"/><stop offset="0.625" stop-color="rgb(255,255,0)"/><stop offset="0.875" stop-color="rgb(255,0,0)"/><stop offset="1" stop-color="rgb(128,0,0)"/></linearGradient>
<rect x="208.5" y="516.5" width="384" height="15" fill="url(#jetg)" stroke="#000" stroke-width="1"/>
<text x="324.6" y="552" font-size="19.8" textLength="151.4" lengthAdjust="spacingAndGlyphs">log10[Time [s]]</text>
<text x="188.5" y="551.5" font-size="16.5" textLength="15.5" lengthAdjust="spacingAndGlyphs">10</text>
<text x="205.5" y="544" font-size="11.3" textLength="22" lengthAdjust="spacingAndGlyphs">−2.0</text>
<text x="577" y="551.5" font-size="16.5" textLength="15" lengthAdjust="spacingAndGlyphs">10</text>
<text x="593" y="544" font-size="11.3" textLength="14" lengthAdjust="spacingAndGlyphs">1.6</text>
</svg>
</body></html>
